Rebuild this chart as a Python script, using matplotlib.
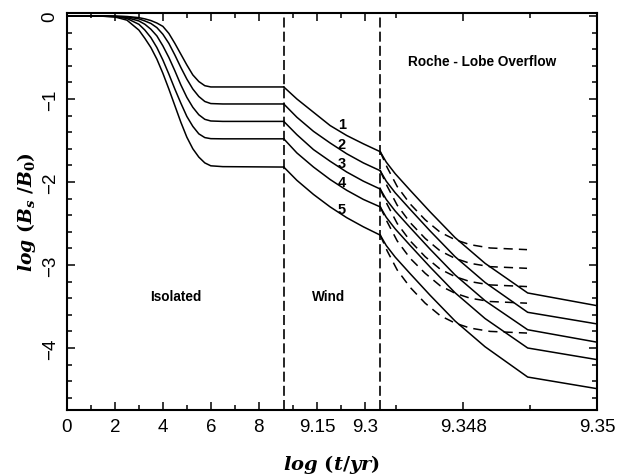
import numpy as np
import matplotlib
matplotlib.use("Agg")
import matplotlib.pyplot as plt

# phase boundaries in log(t/yr)
t_wind_on = 9.045
t_rlof_on = 9.34676

# isolated phase
t_iso = [0, 1, 1.5, 2, 2.5, 3, 3.25, 3.5, 3.75, 4, 4.25, 4.5, 4.75, 5, 5.25, 5.5, 5.75, 6, 6.5, 9.045]
b_iso = [
    [0, 0, 0, -0.002, -0.006, -0.02, -0.035, -0.055, -0.085, -0.125, -0.21, -0.33, -0.46, -0.59, -0.71, -0.79, -0.84, -0.855, -0.855, -0.855],
    [0, 0, 0, -0.003, -0.01, -0.035, -0.06, -0.09, -0.14, -0.22, -0.33, -0.47, -0.62, -0.76, -0.88, -0.97, -1.03, -1.055, -1.06, -1.06],
    [0, 0, -0.001, -0.005, -0.02, -0.06, -0.10, -0.16, -0.24, -0.36, -0.50, -0.66, -0.83, -0.98, -1.10, -1.19, -1.245, -1.265, -1.27, -1.27],
    [0, 0, -0.002, -0.008, -0.03, -0.10, -0.17, -0.26, -0.38, -0.53, -0.70, -0.88, -1.05, -1.21, -1.33, -1.42, -1.465, -1.478, -1.48, -1.48],
    [0, 0, -0.003, -0.012, -0.05, -0.17, -0.27, -0.38, -0.52, -0.69, -0.88, -1.08, -1.28, -1.46, -1.60, -1.70, -1.77, -1.805, -1.815, -1.82],
]

# wind phase
t_wnd = [9.045, 9.086, 9.138, 9.19, 9.242, 9.294, 9.34676]
b_wnd = [
    [-0.855, -1.00, -1.16, -1.32, -1.44, -1.54, -1.635],
    [-1.06, -1.22, -1.39, -1.53, -1.66, -1.77, -1.864],
    [-1.27, -1.43, -1.61, -1.75, -1.88, -1.99, -2.085],
    [-1.48, -1.65, -1.82, -1.97, -2.10, -2.21, -2.30],
    [-1.82, -1.98, -2.15, -2.30, -2.43, -2.54, -2.64],
]

# roche-lobe overflow phase (solid)
t_rlo = [9.34676, 9.34685, 9.346984, 9.347208, 9.347506, 9.347879, 9.348327, 9.348964, 9.35]
b_rlo = [
    [-1.635, -1.76, -1.90, -2.10, -2.36, -2.67, -2.98, -3.337, -3.49],
    [-1.864, -1.99, -2.13, -2.33, -2.59, -2.90, -3.21, -3.57, -3.71],
    [-2.085, -2.21, -2.35, -2.55, -2.81, -3.12, -3.43, -3.78, -3.93],
    [-2.30, -2.425, -2.565, -2.765, -3.025, -3.335, -3.645, -4.00, -4.14],
    [-2.64, -2.765, -2.905, -3.105, -3.365, -3.675, -3.985, -4.35, -4.49],
]

# roche-lobe overflow phase (dashed)
t_rlo_d = [9.34676, 9.346864, 9.347014, 9.347208, 9.347432, 9.347656, 9.347879, 9.348103, 9.348402, 9.348954]
b_rlo_d = [
    [-1.635, -1.825, -2.055, -2.265, -2.455, -2.605, -2.695, -2.755, -2.795, -2.815],
    [-1.864, -2.05, -2.28, -2.49, -2.68, -2.83, -2.92, -2.98, -3.02, -3.04],
    [-2.085, -2.27, -2.50, -2.71, -2.90, -3.05, -3.14, -3.20, -3.24, -3.26],
    [-2.30, -2.48, -2.71, -2.92, -3.10, -3.25, -3.34, -3.40, -3.44, -3.46],
    [-2.64, -2.83, -3.06, -3.27, -3.46, -3.61, -3.70, -3.76, -3.80, -3.82],
]

curve_names = ['1', '2', '3', '4', '5']
label_t = 9.227
label_b = [-1.30, -1.54, -1.77, -2.00, -2.33]

x_major = [0, 2, 4, 6, 8, 9.15, 9.3, 9.348, 9.35]
x_major_lbl = ['0', '2', '4', '6', '8', '9.15', '9.3', '9.348', '9.35']
x_minor = [1, 3, 5, 7, 9.075, 9.225, 9.347, 9.349]
y_major = [0, -1, -2, -3, -4]
y_major_lbl = ['0', '\u22121', '\u22122', '\u22123', '\u22124']

# piecewise stretched time axis
s1, s2, s3 = 24.0, 320.0, 67000.0
u1 = s1 * t_wind_on
u2 = u1 + s2 * (t_rlof_on - t_wind_on)


def fwd(x):
    x = np.asarray(x, dtype=float)
    return np.where(x <= t_wind_on, s1 * x,
                    np.where(x <= t_rlof_on, u1 + s2 * (x - t_wind_on),
                             u2 + s3 * (x - t_rlof_on)))


def inv(u):
    u = np.asarray(u, dtype=float)
    return np.where(u <= u1, u / s1,
                    np.where(u <= u2, t_wind_on + (u - u1) / s2,
                             t_rlof_on + (u - u2) / s3))


plt.rcParams['mathtext.fontset'] = 'custom'
plt.rcParams['mathtext.it'] = 'DejaVu Serif:italic:bold'
plt.rcParams['mathtext.rm'] = 'DejaVu Serif:bold'
plt.rcParams['mathtext.bf'] = 'DejaVu Serif:bold'

fig = plt.figure(figsize=(6.41, 4.77), dpi=100)
ax = fig.add_axes([67 / 641, 1 - 411 / 477, 530 / 641, 397 / 477])
ax.set_xscale('function', functions=(fwd, inv))

lw = 1.1
for k in range(5):
    ax.plot(t_iso, b_iso[k], color='black', lw=lw)
    ax.plot(t_wnd, b_wnd[k], color='black', lw=lw)
    ax.plot(t_rlo, b_rlo[k], color='black', lw=lw)
    ax.plot(t_rlo_d, b_rlo_d[k], color='black', lw=lw, linestyle=(0, (6, 4)))
    ax.text(label_t, label_b[k], curve_names[k], ha='center', va='center',
            fontsize=10.5, fontweight='bold', family='Liberation Sans')

for tb in [t_wind_on, t_rlof_on]:
    ax.axvline(tb, color='black', lw=1.2, linestyle=(0, (6, 2.5)))

ax.text(4.54, -3.37, 'Isolated', ha='center', va='center', fontsize=9.8,
        fontweight='bold', family='Liberation Sans')
ax.text(9.184, -3.37, 'Wind', ha='center', va='center', fontsize=9.8,
        fontweight='bold', family='Liberation Sans')
ax.text(9.34829, -0.54, 'Roche - Lobe Overflow', ha='center', va='center', fontsize=9.8,
        fontweight='bold', family='Liberation Sans')

ax.set_xlim(0, 9.35)
ax.set_ylim(-4.747, 0.036)
ax.set_xticks(x_major, labels=x_major_lbl)
ax.set_xticks(x_minor, minor=True)
ax.set_yticks(y_major, labels=y_major_lbl)
ax.set_yticks(np.arange(-4.6, 0.01, 0.2), minor=True)

ax.tick_params(which='both', direction='in', top=True, right=True, width=1.1)
ax.tick_params(which='major', length=6, labelsize=13.5, pad=6)
ax.tick_params(which='minor', length=3.5)
for lab in ax.get_xticklabels() + ax.get_yticklabels():
    lab.set_family('Liberation Sans')
for lab in ax.get_yticklabels():
    lab.set_rotation(90)
    lab.set_va('center')
for sp in ax.spines.values():
    sp.set_linewidth(1.5)

ax.set_xlabel(r'$log\ (t/yr)$', fontsize=14)
ax.xaxis.set_label_coords(0.5, -0.105)
ax.set_ylabel(r'$log\ (B_s\ /B_{\mathit{0}})$', fontsize=13.5)
ax.yaxis.set_label_coords(-0.055, 0.5)

fig.savefig('out.png', dpi=100)
